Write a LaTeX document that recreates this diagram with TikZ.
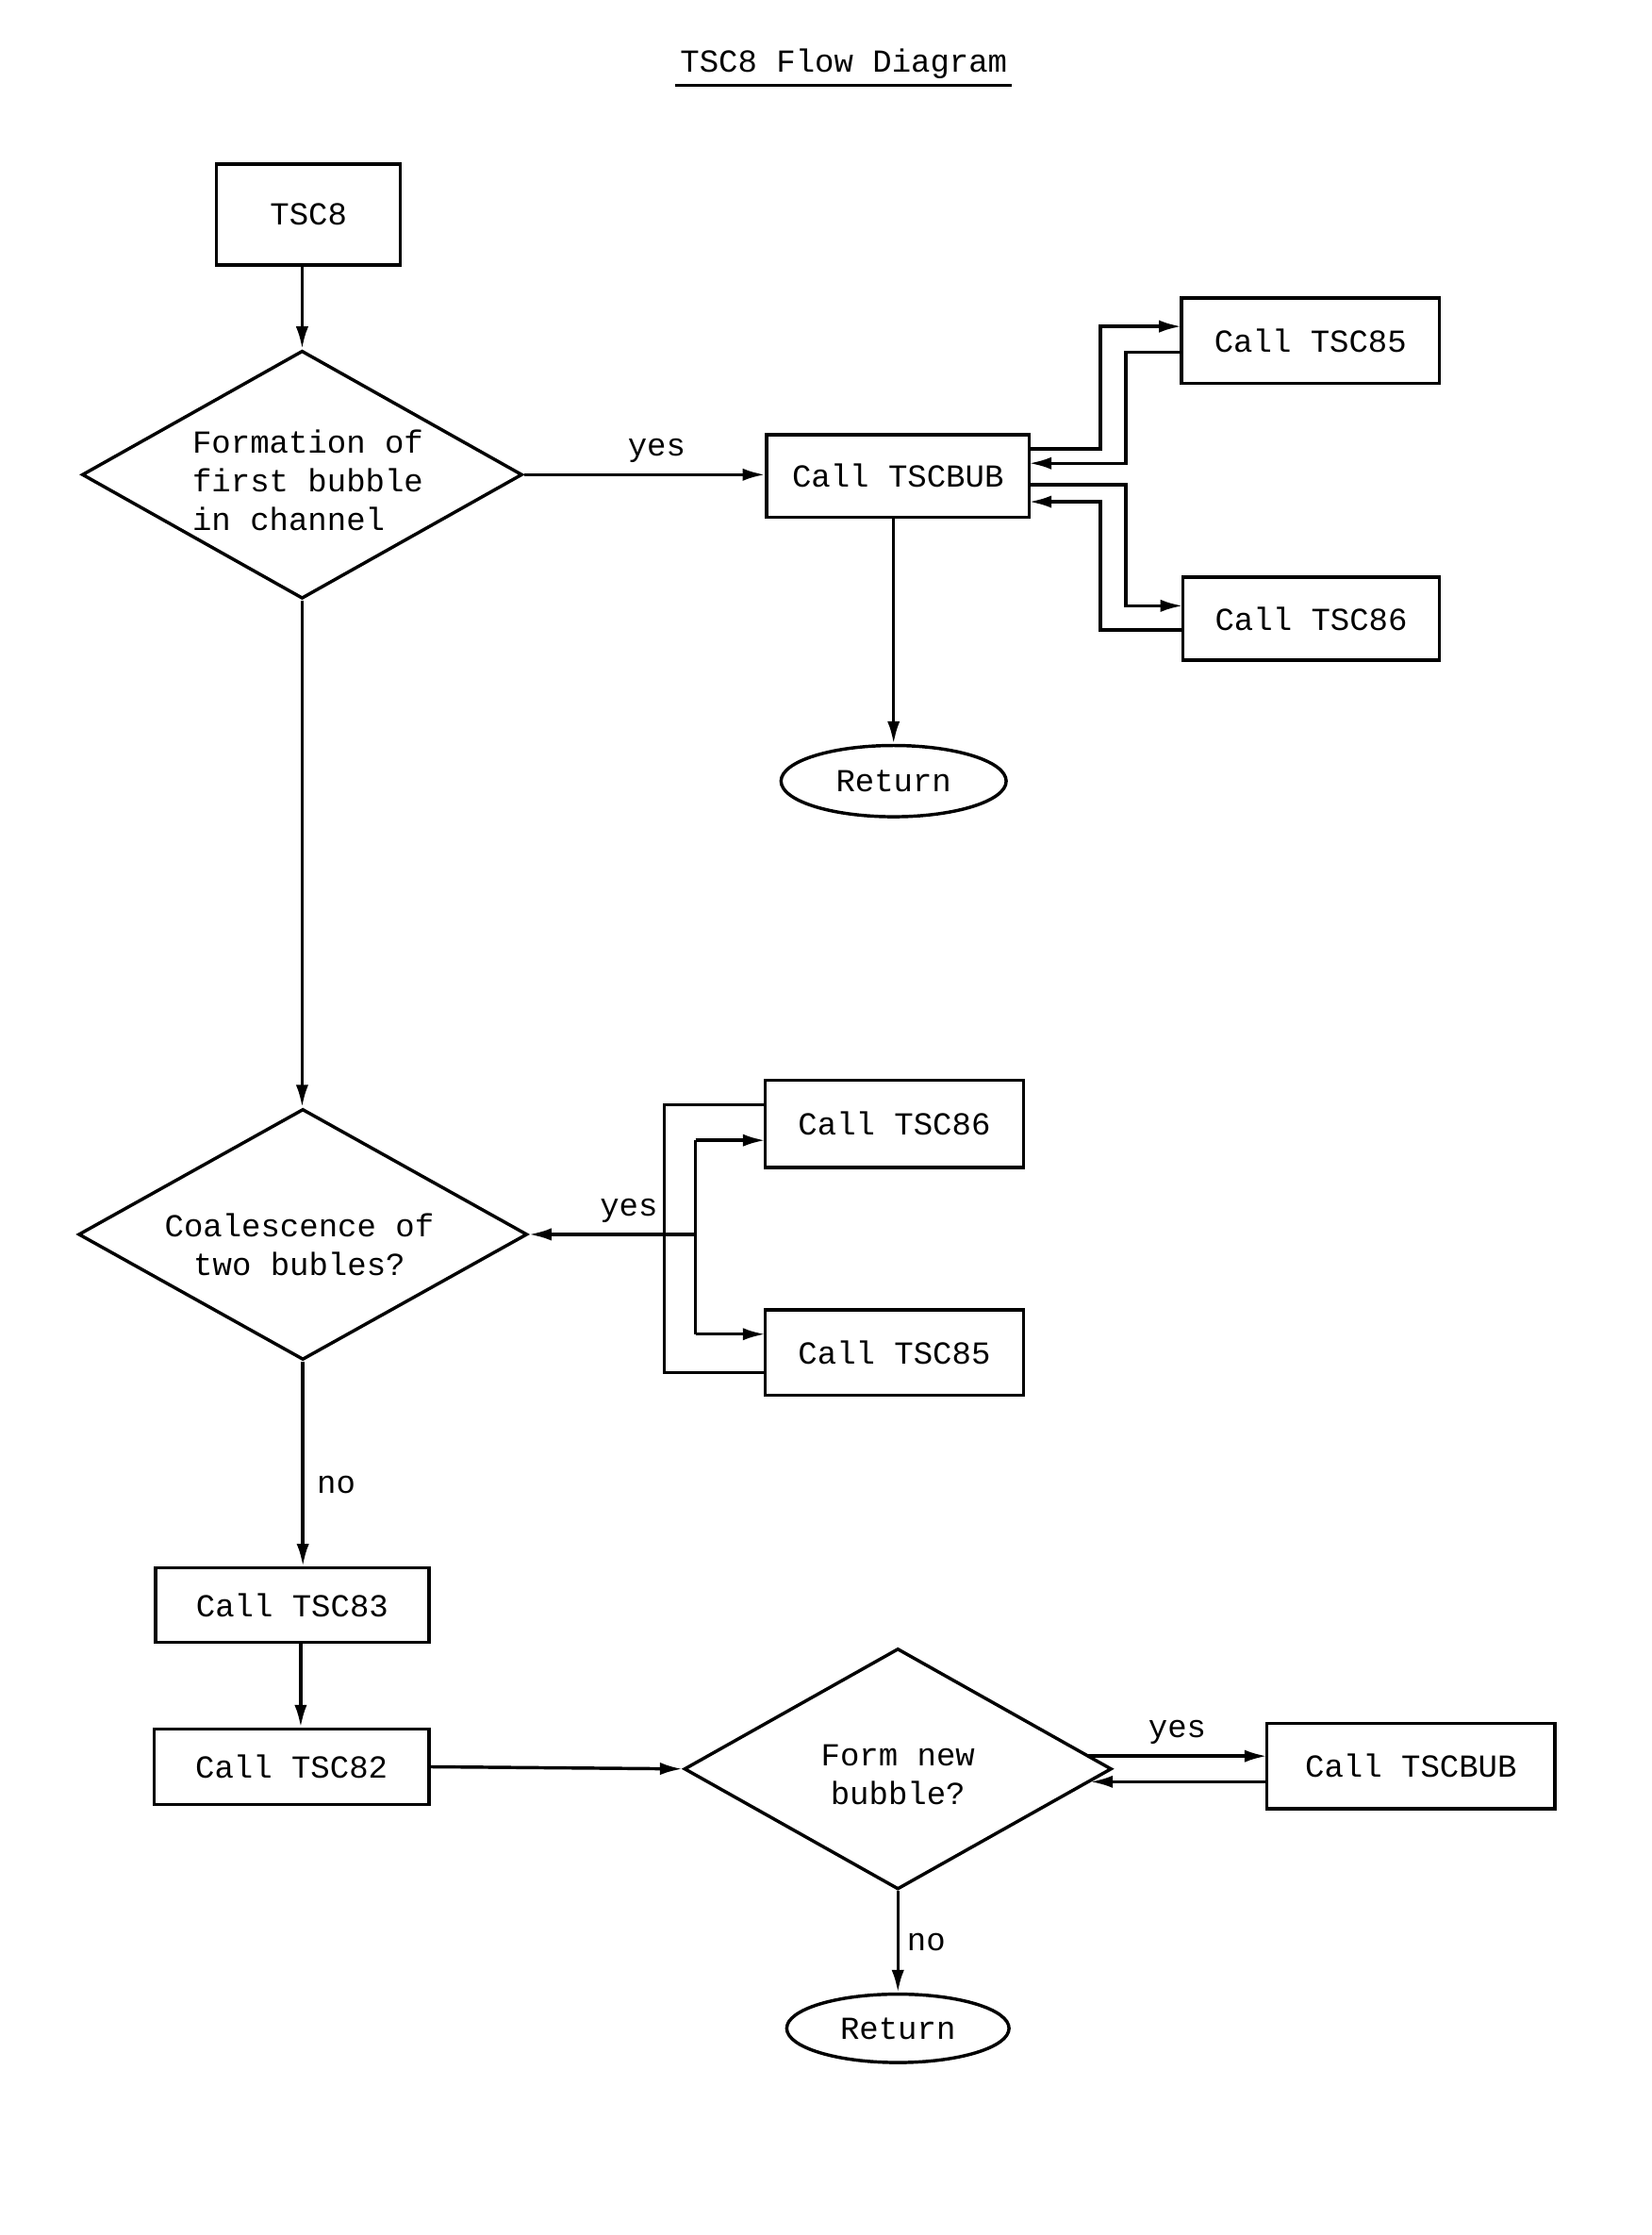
\documentclass[tikz,border=0pt]{standalone}
\usepackage{fontspec}
\setmainfont{Liberation Mono}
\usetikzlibrary{shapes.geometric,arrows.meta}
\begin{document}
\begin{tikzpicture}[x=0.02cm,y=-0.02cm,
  font=\fontsize{12.8}{15.5}\selectfont,
  line width=1.3pt,
  box/.style={draw,rectangle,inner sep=0pt},
  dia/.style={draw,diamond,inner sep=0pt},
  oval/.style={draw,ellipse,inner sep=0pt},
  lbl/.style={inner sep=1pt},
  arr/.style={-{Latex[length=9pt,width=5pt]}}]
\useasboundingbox (0,0) rectangle (1159,1568);
\node[lbl] (title) at (592,45) {TSC8 Flow Diagram};
\draw[line width=1pt] (474,60) -- (710,60);
\node[box,minimum width=2.58cm,minimum height=1.42cm] (tsc8) at (216.5,150.5) {TSC8};
\node[dia,minimum width=6.18cm,minimum height=3.48cm] (d1) at (212,333) {};
\node[align=left] (d1t) at (216,337) {Formation of\\first bubble\\in channel};
\node[box,minimum width=3.68cm,minimum height=1.16cm] (bub) at (630,334) {Call TSCBUB};
\node[box,minimum width=3.62cm,minimum height=1.2cm] (c85a) at (919.5,239) {Call TSC85};
\node[box,minimum width=3.6cm,minimum height=1.16cm] (c86a) at (920,434) {Call TSC86};
\node[oval,minimum width=3.16cm,minimum height=1cm] (ret1) at (627,548) {Return};
\node[dia,minimum width=6.3cm,minimum height=3.52cm] (d2) at (212.5,866) {};
\node[align=center] (d2t) at (210,873) {Coalescence of\\two bubles?};
\node[box,minimum width=3.62cm,minimum height=1.22cm] (c86b) at (627.5,788.5) {Call TSC86};
\node[box,minimum width=3.62cm,minimum height=1.2cm] (c85b) at (627.5,949) {Call TSC85};
\node[box,minimum width=3.84cm,minimum height=1.04cm] (c83) at (205,1126) {Call TSC83};
\node[box,minimum width=3.86cm,minimum height=1.06cm] (c82) at (204.5,1239.5) {Call TSC82};
\node[dia,minimum width=6cm,minimum height=3.38cm] (d3) at (630,1241) {};
\node[align=center] (d3t) at (630,1245) {Form new\\bubble?};
\node[box,minimum width=4.04cm,minimum height=1.2cm] (bub2) at (990,1239) {Call TSCBUB};
\node[oval,minimum width=3.12cm,minimum height=0.96cm] (ret2) at (630,1423) {Return};
% connectors
\draw[arr] (tsc8.south -| d1.north) -- (d1.north);
\draw[arr] (d1.east) -- node[above,lbl,pos=0.55,yshift=3pt]{yes} (d1.east -| bub.west);
\draw[arr] (722,315) -- (772,315) -- (772,229) -- (829,229);
\draw[arr] (829,247) -- (790,247) -- (790,325) -- (722,325);
\draw[arr] (722,340) -- (790,340) -- (790,425) -- (830,425);
\draw[arr] (830,442) -- (772,442) -- (772,352) -- (722,352);
\draw[arr] (bub.south -| ret1.north) -- (ret1.north);
\draw[arr] (d1.south) -- (d2.north -| d1.south);
\draw (537,775) -- (466,775) -- (466,963) -- (537,963);
\draw[arr] (488,866) -- node[above,lbl,pos=0.4,yshift=3pt]{yes} (d2.east);
\draw (488,800) -- (488,936);
\draw[arr] (488,800) -- (537,800);
\draw[arr] (488,936) -- (537,936);
\draw[arr] (d2.south) -- node[right,lbl,pos=0.6,xshift=4pt]{no} (c83.north -| d2.south);
\draw[arr] (c83.south -| 211,0) -- (c82.north -| 211,0);
\draw[arr] (c82.east) -- (d3.west);
\draw[arr] (763,1232) -- node[above,lbl,pos=0.5,yshift=3pt]{yes} (889,1232);
\draw[arr] (889,1250) -- (765,1250);
\draw[arr] (d3.south) -- node[right,lbl,pos=0.5,xshift=2pt]{no} (ret2.north);
\end{tikzpicture}
\end{document}
